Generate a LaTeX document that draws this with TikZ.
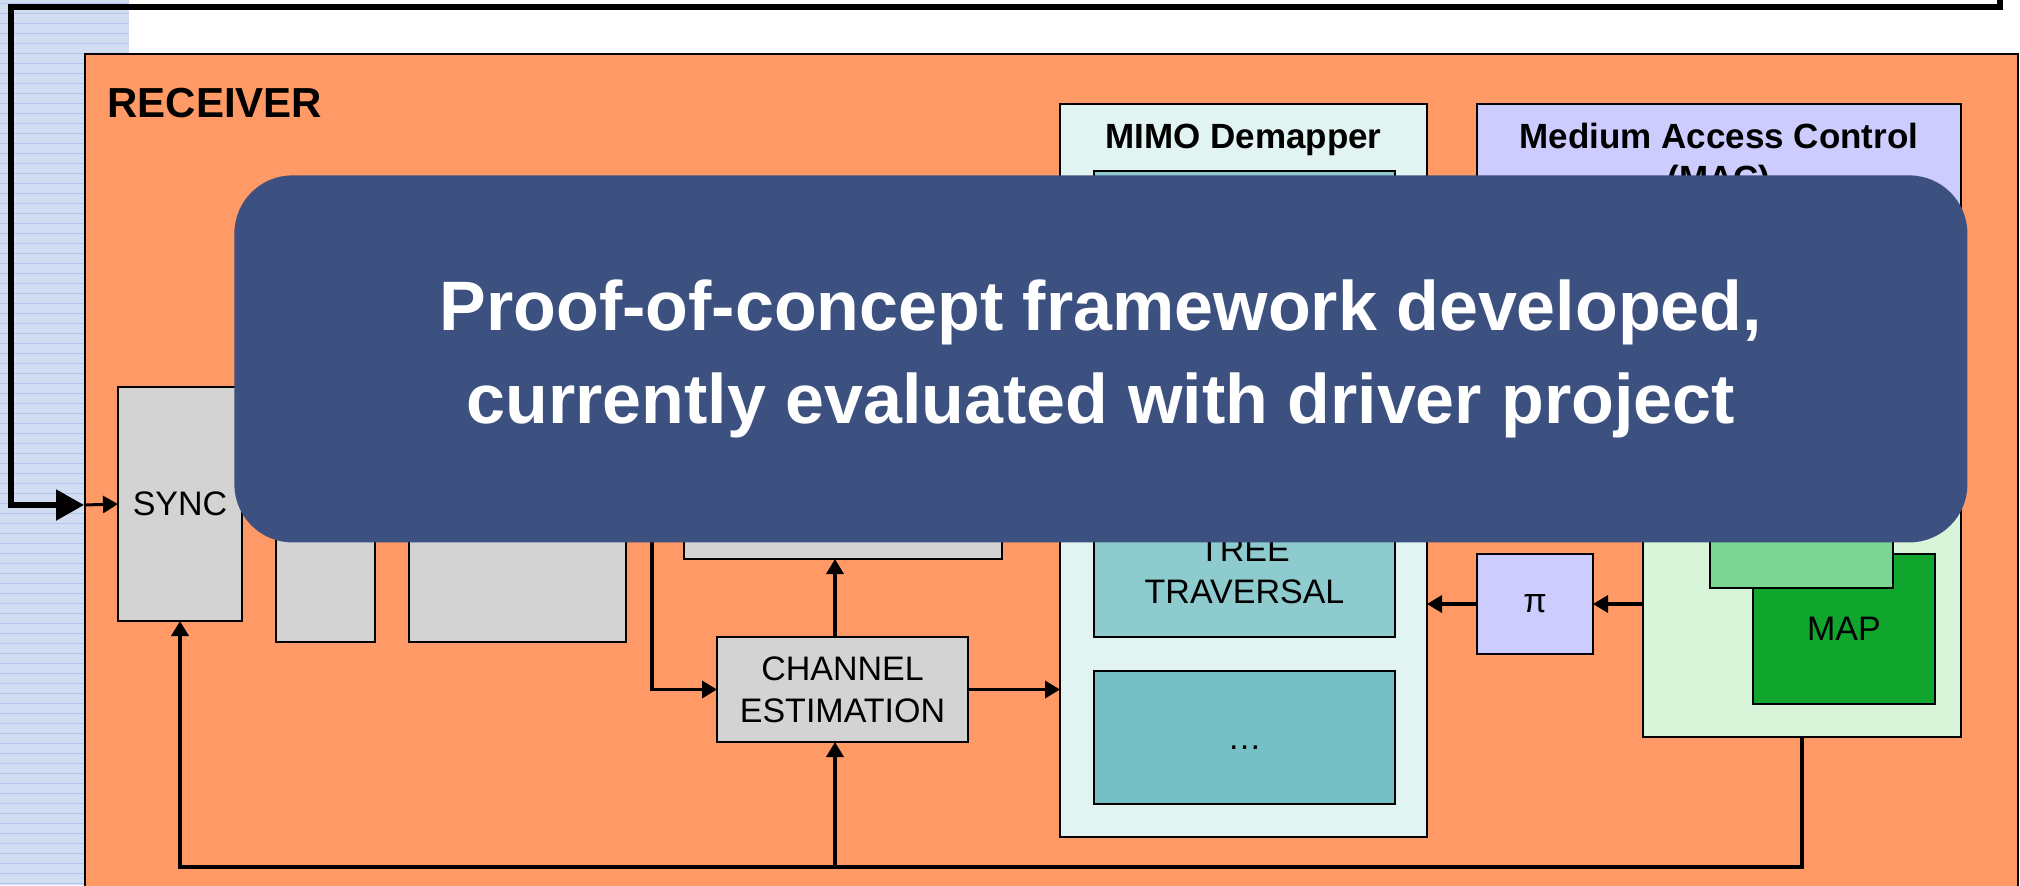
\documentclass[tikz,border=0pt]{standalone}
\usepackage{fontspec}
\setmainfont{Liberation Sans}
\usetikzlibrary{arrows.meta}
\definecolor{stripblue}{HTML}{D2DCF3}
\definecolor{stripline}{HTML}{B4C5EC}
\definecolor{rxorange}{HTML}{FF9966}
\definecolor{boxgrey}{HTML}{D3D3D3}
\definecolor{mimobg}{HTML}{E2F4F2}
\definecolor{tealA}{HTML}{8ECBCF}
\definecolor{tealB}{HTML}{76C0C5}
\definecolor{macblue}{HTML}{CCCCFF}
\definecolor{lgreen}{HTML}{D8F5DA}
\definecolor{mgreen}{HTML}{7DD593}
\definecolor{dgreen}{HTML}{10A52C}
\definecolor{bannerblue}{HTML}{3D5180}

\begin{document}
\begin{tikzpicture}[x=0.5pt,y=-0.5pt,
  box/.style={draw, line width=1pt, inner sep=0pt, outer sep=0pt, anchor=north west, align=center, font=\fontsize{17}{21}\selectfont},
  grey/.style={box, fill=boxgrey},
  hdr/.style={font=\bfseries\fontsize{17.5}{21}\selectfont, anchor=base, inner sep=0pt},
  conn/.style={line width=1.75pt, -{Triangle[length=7.5pt,width=8.5pt]}},
  banner/.style={anchor=north west, fill=bannerblue, rounded corners=29pt, inner sep=0pt, align=center, text=white, font=\bfseries\fontsize{35}{46.5}\selectfont}]
\useasboundingbox (0,0) rectangle (2020,885);
\clip (0,0) rectangle (2020,885);
\fill[stripblue] (0,0) rectangle (129,885);
\foreach \y in {3,13,...,883}
  \draw[stripline, line width=0.4pt] (0,\y) -- (129,\y);

\node[box, fill=rxorange, line width=0.75pt, minimum width=966.5pt, minimum height=430pt] (rx) at (85,54) {};
\node[hdr, anchor=base west, font=\bfseries\fontsize{21}{25}\selectfont] (rxlabel) at (107,117) {RECEIVER};

% outer loop into the receiver
\coordinate (fbtop) at (2000,-10);
\coordinate (fbcorner) at (11,7);
\coordinate (fbin) at (84,505);
\draw[line width=2.75pt, -{Triangle[length=14pt,width=15pt]}] (fbtop) |- (fbcorner) |- (fbin);

\node[grey, minimum width=62pt, minimum height=117pt] (sync) at (118,387) {SYNC};
\node[grey, minimum width=49.5pt, minimum height=123.5pt] (rmcp) at (276,395) {};
\node[grey, minimum width=108.5pt, minimum height=123.5pt] (fft) at (409,395) {};
\node[grey, minimum width=159pt, minimum height=69.5pt] (eq) at (684,420) {};
\node[grey, minimum width=125.5pt, minimum height=52.5pt] (chest) at (717,637) {CHANNEL\\ESTIMATION};

\node[box, fill=mimobg, minimum width=183.5pt, minimum height=366.5pt] (mimo) at (1060,104) {};
\node[hdr] (mimotitle) at (1243.5,148) {MIMO Demapper};
\node[box, fill=tealA, minimum width=150.5pt, minimum height=79.5pt] (preproc) at (1094,171) {};
\node[box, fill=tealA, minimum width=150.5pt, minimum height=66pt] (tree) at (1094,505) {TREE\\TRAVERSAL};
\node[box, fill=tealB, minimum width=150.5pt, minimum height=66.5pt] (more) at (1094,671) {\vphantom{T}…};

\node[box, fill=macblue, minimum width=242pt, minimum height=183pt] (mac) at (1477,104) {};
\node[hdr] (mactitle) at (1719,148) {Medium Access Control};
\node[hdr] (macsub) at (1719,190) {(MAC)};
\node[box, fill=lgreen, minimum width=159pt, minimum height=148.5pt] (macbody) at (1643,440) {};
\node[box, fill=dgreen, minimum width=91pt, minimum height=75pt] (map) at (1753,554) {MAP};
\node[box, fill=mgreen, minimum width=91.5pt, minimum height=84pt] (dec) at (1710,420) {};
\node[box, fill=macblue, minimum width=58pt, minimum height=50pt] (pi) at (1477,554) {π};

\coordinate (bus) at (835,867);
\coordinate (fromfft) at (652,480);
\draw[conn, line width=1.5pt] (fbin) -- (sync.west);
\draw[conn] (macbody.south) |- (bus) -| (sync.south);
\draw[conn] (bus) -- (bus |- chest.south);
\draw[conn] (bus |- chest.north) -- (bus |- eq.south);
\draw[conn] (fromfft) |- (chest.west);
\draw[conn] (chest.east) -- (chest.east -| mimo.west);
\draw[conn] (pi.west) -- (pi.west -| mimo.east);
\draw[conn] (pi.east -| macbody.west) -- (pi.east);

\node[banner, minimum width=866.5pt, minimum height=183.5pt] (banner) at (234,175) {Proof-of-concept framework developed,\\currently evaluated with driver project};
\end{tikzpicture}
\end{document}
